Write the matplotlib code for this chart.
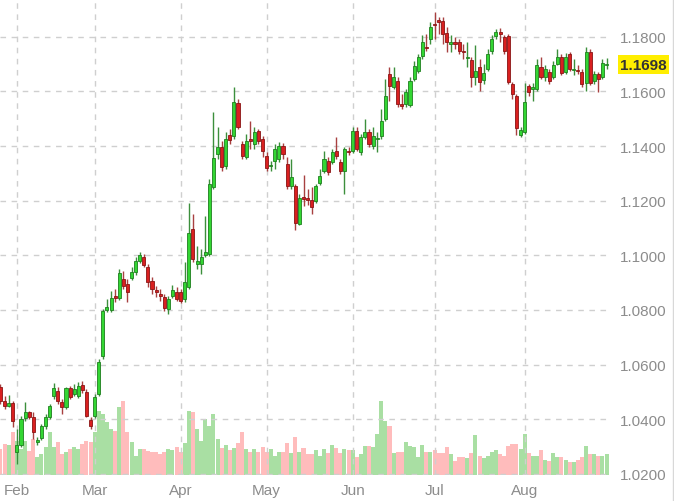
import matplotlib
matplotlib.use("Agg")
import matplotlib.pyplot as plt
import numpy as np

opens = [
1.0518,1.0467,1.0448,1.0459,1.0280,1.0306,1.0405,1.0426,1.0408,1.0317,
1.0331,1.0375,1.0408,1.0485,1.0503,1.0463,1.0445,1.0514,1.0492,1.0485,
1.0525,1.0500,1.0397,1.0412,1.0492,1.0631,1.0800,1.0800,1.0851,1.0844,
1.0913,1.0895,1.0917,1.0939,1.0979,1.0994,1.0957,1.0906,1.0873,1.0858,
1.0847,1.0803,1.0851,1.0866,1.0866,1.0840,1.0884,1.1096,1.0968,1.0968,
1.1001,1.1005,1.1250,1.1371,1.1396,1.1327,1.1440,1.1437,1.1557,1.1407,
1.1360,1.1426,1.1407,1.1455,1.1426,1.1363,1.1327,1.1345,1.1352,1.1400,
1.1334,1.1254,1.1254,1.1115,1.1213,1.1210,1.1202,1.1199,1.1265,1.1308,
1.1345,1.1341,1.1382,1.1341,1.1308,1.1382,1.1382,1.1455,1.1378,1.1433,
1.1451,1.1400,1.1426,1.1437,1.1499,1.1663,1.1616,1.1638,1.1554,1.1554,
1.1550,1.1645,1.1674,1.1729,1.1762,1.1792,1.1847,1.1861,1.1858,1.1814,
1.1773,1.1781,1.1781,1.1748,1.1722,1.1715,1.1652,1.1689,1.1641,1.1682,
1.1748,1.1803,1.1817,1.1799,1.1803,1.1627,1.1583,1.1440,1.1451,1.1620,
1.1609,1.1609,1.1689,1.1652,1.1671,1.1652,1.1700,1.1726,1.1671,1.1737,
1.1678,1.1678,1.1671,1.1631,1.1744,1.1638,1.1663,1.1652,1.1696]

closes = [
1.0467,1.0448,1.0459,1.0393,1.0306,1.0401,1.0426,1.0408,1.0353,1.0324,
1.0375,1.0408,1.0448,1.0514,1.0467,1.0445,1.0514,1.0481,1.0511,1.0522,
1.0507,1.0412,1.0375,1.0481,1.0609,1.0796,1.0811,1.0844,1.0844,1.0935,
1.0888,1.0866,1.0939,1.0979,1.1001,1.0964,1.0902,1.0877,1.0866,1.0851,
1.0807,1.0840,1.0873,1.0840,1.0833,1.0902,1.1082,1.0986,1.0979,1.0994,
1.1012,1.1261,1.1356,1.1396,1.1323,1.1426,1.1422,1.1561,1.1470,1.1363,
1.1418,1.1418,1.1451,1.1418,1.1382,1.1319,1.1330,1.1389,1.1400,1.1371,
1.1254,1.1287,1.1118,1.1210,1.1206,1.1202,1.1177,1.1254,1.1290,1.1352,
1.1305,1.1378,1.1363,1.1308,1.1389,1.1378,1.1455,1.1389,1.1433,1.1451,
1.1407,1.1437,1.1429,1.1492,1.1583,1.1620,1.1652,1.1554,1.1546,1.1598,
1.1638,1.1693,1.1726,1.1781,1.1759,1.1836,1.1843,1.1854,1.1810,1.1781,
1.1781,1.1773,1.1748,1.1744,1.1726,1.1652,1.1674,1.1634,1.1667,1.1737,
1.1792,1.1817,1.1810,1.1748,1.1634,1.1590,1.1466,1.1459,1.1561,1.1598,
1.1616,1.1696,1.1652,1.1682,1.1638,1.1696,1.1726,1.1667,1.1726,1.1682,
1.1682,1.1674,1.1627,1.1744,1.1631,1.1663,1.1645,1.1704,1.1698]

highs = [
1.0529,1.0485,1.0489,1.0467,1.0364,1.0412,1.0463,1.0430,1.0426,1.0335,
1.0383,1.0419,1.0456,1.0533,1.0518,1.0474,1.0518,1.0522,1.0529,1.0536,
1.0540,1.0511,1.0408,1.0492,1.0620,1.0803,1.0840,1.0869,1.0877,1.0950,
1.0942,1.0913,1.0957,1.0994,1.1012,1.1005,1.0968,1.0921,1.0888,1.0877,
1.0858,1.0851,1.0891,1.0884,1.0877,1.0975,1.1191,1.1151,1.1034,1.1023,
1.1144,1.1279,1.1524,1.1470,1.1418,1.1451,1.1462,1.1616,1.1572,1.1418,
1.1444,1.1492,1.1470,1.1462,1.1437,1.1378,1.1345,1.1407,1.1415,1.1411,
1.1360,1.1352,1.1261,1.1224,1.1294,1.1243,1.1250,1.1261,1.1316,1.1382,
1.1360,1.1389,1.1433,1.1352,1.1396,1.1396,1.1470,1.1470,1.1444,1.1499,
1.1462,1.1470,1.1451,1.1535,1.1645,1.1689,1.1689,1.1652,1.1590,1.1609,
1.1652,1.1711,1.1737,1.1806,1.1810,1.1854,1.1890,1.1872,1.1872,1.1836,
1.1806,1.1799,1.1792,1.1773,1.1781,1.1726,1.1770,1.1718,1.1700,1.1755,
1.1806,1.1828,1.1832,1.1806,1.1810,1.1634,1.1590,1.1470,1.1631,1.1627,
1.1631,1.1718,1.1726,1.1696,1.1682,1.1711,1.1755,1.1737,1.1740,1.1744,
1.1718,1.1696,1.1682,1.1762,1.1755,1.1674,1.1671,1.1718,1.1722]

lows = [
1.0456,1.0437,1.0445,1.0372,1.0236,1.0298,1.0393,1.0401,1.0328,1.0306,
1.0324,1.0364,1.0401,1.0474,1.0456,1.0419,1.0437,1.0474,1.0485,1.0478,
1.0496,1.0408,1.0364,1.0405,1.0485,1.0620,1.0792,1.0792,1.0829,1.0836,
1.0877,1.0829,1.0910,1.0928,1.0972,1.0957,1.0884,1.0858,1.0847,1.0833,
1.0796,1.0785,1.0844,1.0833,1.0825,1.0829,1.0877,1.0975,1.0950,1.0932,
1.0994,1.0997,1.1243,1.1352,1.1308,1.1316,1.1407,1.1426,1.1462,1.1352,
1.1352,1.1389,1.1389,1.1407,1.1360,1.1308,1.1308,1.1316,1.1341,1.1352,
1.1243,1.1243,1.1093,1.1111,1.1180,1.1184,1.1151,1.1191,1.1257,1.1301,
1.1294,1.1334,1.1352,1.1298,1.1224,1.1367,1.1374,1.1382,1.1367,1.1426,
1.1396,1.1389,1.1378,1.1426,1.1492,1.1565,1.1609,1.1543,1.1535,1.1543,
1.1543,1.1638,1.1667,1.1718,1.1748,1.1773,1.1792,1.1810,1.1773,1.1744,
1.1744,1.1755,1.1737,1.1718,1.1689,1.1616,1.1623,1.1601,1.1627,1.1674,
1.1737,1.1792,1.1781,1.1737,1.1627,1.1572,1.1440,1.1433,1.1444,1.1583,
1.1565,1.1601,1.1645,1.1638,1.1627,1.1645,1.1696,1.1660,1.1663,1.1674,
1.1660,1.1663,1.1616,1.1601,1.1623,1.1627,1.1598,1.1645,1.1682]

volumes = [
26,31,30,43,34,26,34,24,36,18,21,28,43,28,33,21,23,26,28,26,
31,34,33,43,64,61,53,46,44,68,74,43,33,19,26,26,24,23,23,21,
23,26,25,28,23,32,64,63,46,34,56,49,61,36,
27,30,25,27,32,43,26,23,26,23,28,23,26,19,23,23,32,22,38,23,
27,21,21,25,19,26,22,30,27,22,26,25,25,18,21,29,29,28,41,74,
54,49,22,23,23,33,29,28,18,30,23,23,25,22,
22,28,21,14,18,18,17,22,40,19,17,19,23,25,21,19,29,31,31,26,
41,22,19,19,25,15,14,22,18,18,15,13,13,15,18,29,21,21,19,19,21]

month_labels = ['Feb', 'Mar', 'Apr', 'May', 'Jun', 'Jul', 'Aug']
month_pos = [4, 23, 44, 65, 86, 106, 128]
price_ticks = [1.02, 1.04, 1.06, 1.08, 1.10, 1.12, 1.14, 1.16, 1.18]
last_price = 1.1698

n = len(closes)
assert len(opens) == n and len(highs) == n and len(lows) == n and len(volumes) == n

o = np.array(opens); c = np.array(closes); h = np.array(highs); l = np.array(lows)
v = np.array(volumes, dtype=float)
x = np.arange(n)
up = c >= o

W, H = 674, 502
fig = plt.figure(figsize=(W / 100, H / 100), dpi=100)
fig.patch.set_facecolor('white')
rect = [0, 26 / H, 610 / W, 476 / H]

ax_v = fig.add_axes(rect)
ax = fig.add_axes(rect)
ax.set_zorder(ax_v.get_zorder() + 1)
ax.patch.set_visible(False)

xlim = (-0.12, 148.85)

# volume
ax_v.bar(x[up], v[up], width=0.98, color='#a9dfa3', linewidth=0)
ax_v.bar(x[~up], v[~up], width=0.98, color='#ffbcbc', linewidth=0)
ax_v.set_xlim(*xlim)
ax_v.set_ylim(0, v.max() / 0.155)
ax_v.axis('off')

# grid
grid_kw = dict(color='#cfcfcf', linewidth=1.0, linestyle=(0, (4, 4)), zorder=0)
for p in price_ticks:
    ax.axhline(p, **grid_kw)
for m in month_pos:
    ax.axvline(m, **grid_kw)

# candles
green_fill, green_edge, green_wick = '#33d633', '#1f7f1f', '#3c8f3c'
red_fill, red_edge, red_wick = '#d92020', '#8a1515', '#a84040'
ax.vlines(x[up], l[up], h[up], color=green_wick, linewidth=1.0, zorder=2)
ax.vlines(x[~up], l[~up], h[~up], color=red_wick, linewidth=1.0, zorder=2)
body_lo = np.minimum(o, c)
body_h = np.maximum(np.abs(c - o), 0.00025)
ax.bar(x[up], body_h[up], bottom=body_lo[up], width=0.75, color=green_fill,
       edgecolor=green_edge, linewidth=0.6, zorder=3)
ax.bar(x[~up], body_h[~up], bottom=body_lo[~up], width=0.75, color=red_fill,
       edgecolor=red_edge, linewidth=0.6, zorder=3)

ax.set_xlim(*xlim)
ax.set_ylim(1.0196, 1.1938)
for s in ax.spines.values():
    s.set_visible(False)

ax.yaxis.tick_right()
ax.set_yticks(price_ticks)
ax.set_yticklabels([f'{p:.4f}' for p in price_ticks])
ax.set_xticks(month_pos)
ax.set_xticklabels(month_labels)
ax.tick_params(axis='both', length=0, labelcolor='#8c8c8c', labelsize=11)
ax.tick_params(axis='y', pad=7)
ax.tick_params(axis='x', pad=6)
for t in ax.get_xticklabels() + ax.get_yticklabels():
    t.set_fontfamily('Liberation Sans')

# last price tag
ax.text(1 + 10 / 610, last_price, f'{last_price:.4f}', transform=ax.get_yaxis_transform(),
        ha='left', va='center', fontsize=11, fontweight='bold', color='#333333',
        family='Liberation Sans',
        bbox=dict(boxstyle='square,pad=0.15', facecolor='#ffee00', edgecolor='none'))

# right frame line
fig.add_artist(plt.Line2D([672.5 / W, 672.5 / W], [0, 1], transform=fig.transFigure,
                          color='#d8d8d8', linewidth=1))

fig.savefig('out.png', dpi=100, facecolor='white')
